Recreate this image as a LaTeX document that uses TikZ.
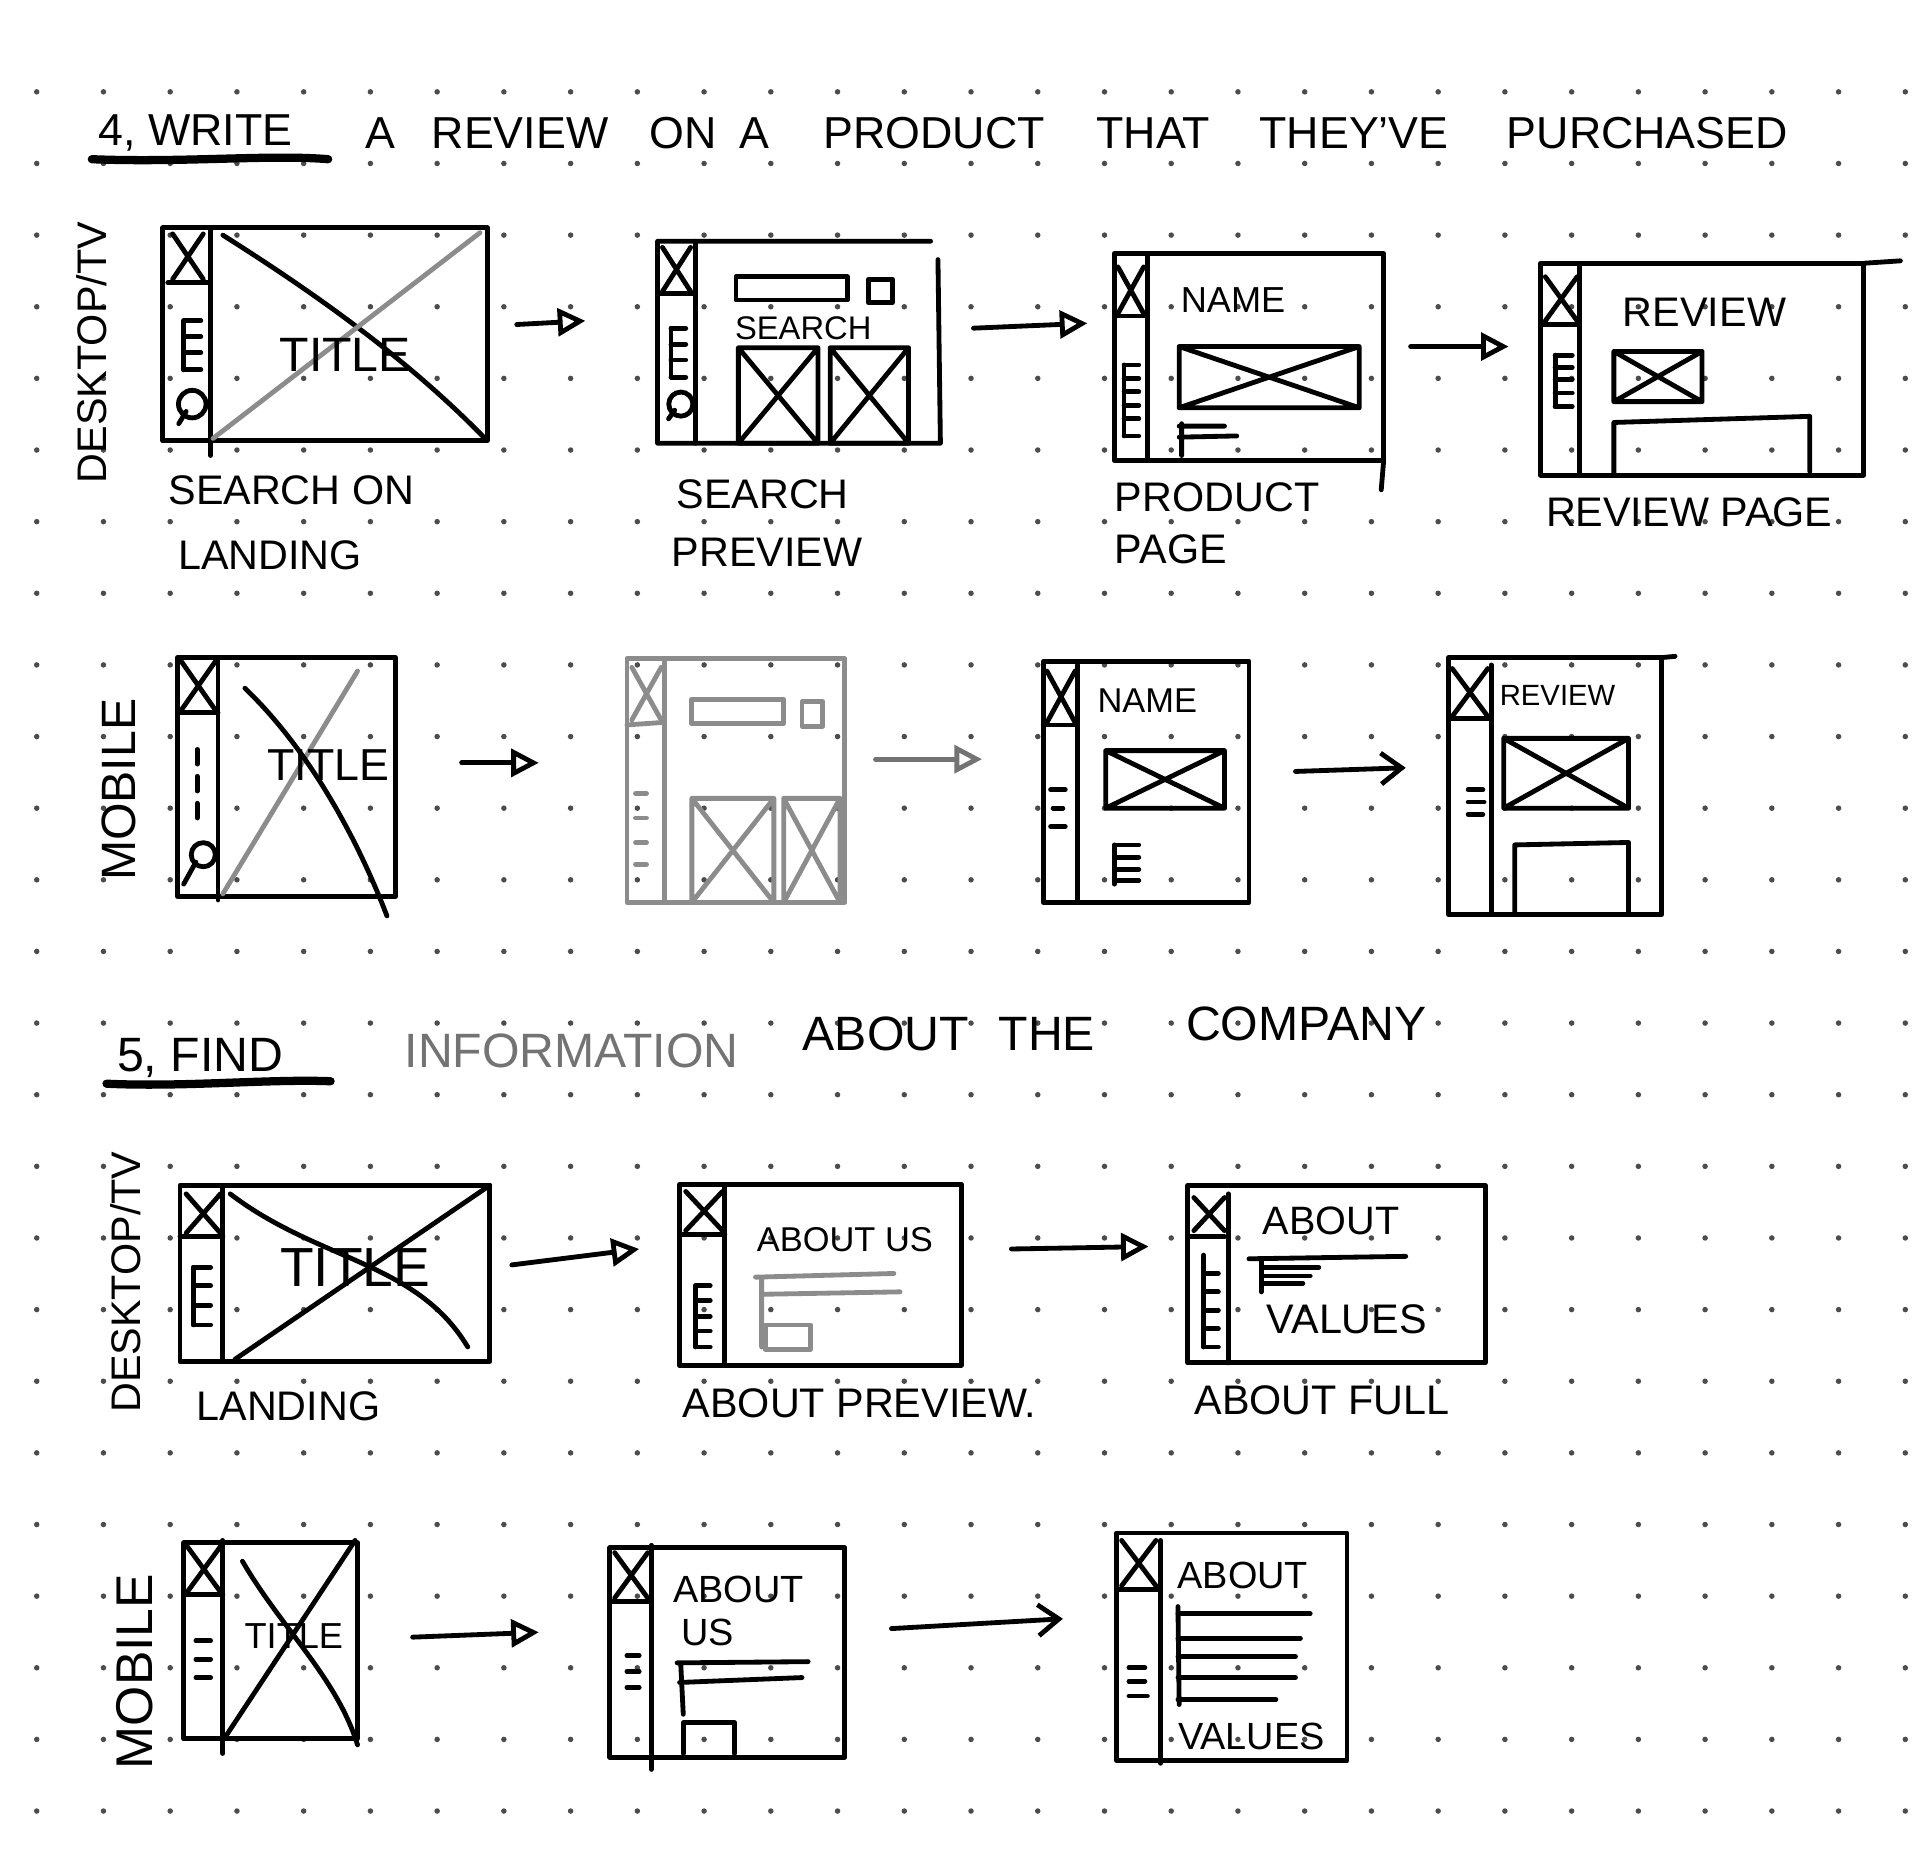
\documentclass[tikz,border=0pt]{standalone}
\usepackage{fontspec}
\setmainfont{Liberation Sans}
\usetikzlibrary{arrows.meta}

\tikzset{
  wire/.style={line width=1.4pt, line cap=round, line join=round},
  pencil/.style={wire, draw=black!45},
  flow/.style={wire, -{Triangle[open, length=8pt, width=8pt]}},
  barb/.style={wire, -{Straight Barb[length=6pt, width=9pt]}},
  heading/.style={font=\fontsize{13}{13}\selectfont, anchor=base west, inner sep=0pt},
  heading2/.style={font=\fontsize{14}{14}\selectfont, anchor=base west, inner sep=0pt},
  caption/.style={font=\fontsize{12}{12}\selectfont, anchor=base west, inner sep=0pt},
  screen/.style={font=\fontsize{#1}{#1}\selectfont, inner sep=0pt},
  screen/.default=10,
  side/.style={font=\fontsize{12}{12}\selectfont, rotate=90, inner sep=0pt},
}

% crossed image box and bare cross
\newcommand{\crossbox}[4]{\draw[wire] (#1,#2) rectangle (#3,#4) (#1,#2) -- (#3,#4) (#1,#4) -- (#3,#2);}
\newcommand{\cross}[4]{\draw[wire] (#1,#2) -- (#3,#4) (#1,#4) -- (#3,#2);}

\begin{document}
\begin{tikzpicture}[x=0.0125cm, y=-0.0125cm]
  \useasboundingbox (0,0) rectangle (1568,1516);
  \fill[white] (0,0) rectangle (1568,1516);

  % dotted paper
  \foreach \i in {0,...,28}
    \foreach \j in {0,...,24}
      \fill[black!70] (30+54.5*\i, 75+58.5*\j) circle[radius=0.8pt];

  % task 4
  \node[heading] (t1a) at (80,119) {4, WRITE};
  \draw[wire, line width=2.4pt] (75,130) .. controls (150,133) and (220,126) .. (268,130);
  \foreach \x/\w [count=\i] in {298/A, 352/REVIEW, 530/ON, 603/A, 672/PRODUCT, 895/THAT, 1028/THEY'VE, 1230/PURCHASED}
    \node[heading] (t1w\i) at (\x,121) {\w};

  \node[side] (rowA) at (75,288) {DESKTOP/TV};
  \node[side, font=\fontsize{14}{14}\selectfont] (rowB) at (97,645) {MOBILE};

  % search on landing
  \draw[wire] (133,186) rectangle (398,360);
  \draw[wire] (172,186) -- (172,372);
  \cross{141}{191}{166}{228}
  \draw[wire] (137,231) -- (170,231);
  \draw[wire] (150,262) -- (150,302);
  \foreach \y in {262,275,288,302} \draw[wire] (150,\y) -- (164,\y);
  \draw[wire] (157,330) circle[radius=4pt] (152,336) -- (146,346);
  \draw[wire] (182,192) .. controls (250,235) and (330,290) .. (396,358);
  \draw[pencil] (174,358) -- (392,190);
  \node[screen=14] (title1) at (282,290) {TITLE};
  \node[caption] (cap1a) at (137,412) {SEARCH ON};
  \node[caption] (cap1b) at (145,465) {LANDING};

  \coordinate (go1a) at (422,265);
  \coordinate (go1b) at (478,262);
  \draw[flow] (go1a) -- (go1b);

  % search preview
  \draw[wire] (537,197) -- (760,197) (766,212) -- (768,362) -- (537,362) -- (537,197);
  \draw[wire] (568,197) -- (568,362);
  \cross{541}{202}{564}{238}
  \draw[wire] (537,240) -- (568,240);
  \draw[wire] (548,268) -- (548,308);
  \foreach \y in {268,281,294,308} \draw[wire] (548,\y) -- (560,\y);
  \draw[wire] (556,330) circle[radius=3.5pt] (551,335) -- (546,342);
  \draw[wire] (601,226) rectangle (692,245);
  \draw[wire] (709,228) rectangle (729,247);
  \node[screen=9.5] (find2) at (656,268) {SEARCH};
  \crossbox{603}{284}{668}{362}
  \crossbox{678}{284}{742}{362}
  \node[caption] (cap2a) at (552,415) {SEARCH};
  \node[caption] (cap2b) at (548,463) {PREVIEW};

  \coordinate (go2a) at (795,268);
  \coordinate (go2b) at (888,264);
  \draw[flow] (go2a) -- (go2b);

  % product page
  \draw[wire] (910,207) rectangle (1130,376);
  \draw[wire] (1130,376) -- (1128,400);
  \draw[wire] (937,207) -- (937,376);
  \cross{913}{218}{934}{256}
  \draw[wire] (910,258) -- (937,258);
  \draw[wire] (918,298) -- (918,356);
  \foreach \y in {298,309,320,331,342,356} \draw[wire] (918,\y) -- (930,\y);
  \node[screen=10.5] (name3) at (1007,245) {NAME};
  \crossbox{963}{283}{1110}{333}
  \draw[wire] (963,348) -- (1000,348) (963,357) -- (1010,356) (965,346) -- (965,372);
  \node[caption] (cap3a) at (910,418) {PRODUCT};
  \node[caption] (cap3b) at (910,460) {PAGE};

  \coordinate (go3a) at (1152,283);
  \coordinate (go3b) at (1232,283);
  \draw[flow] (go3a) -- (go3b);

  % review page
  \draw[wire] (1258,215) rectangle (1522,388);
  \draw[wire] (1522,215) -- (1552,213);
  \draw[wire] (1290,218) -- (1290,388);
  \cross{1262}{226}{1288}{262}
  \draw[wire] (1258,265) -- (1290,265);
  \draw[wire] (1270,290) -- (1270,332);
  \foreach \y in {290,300,310,321,332} \draw[wire] (1270,\y) -- (1284,\y);
  \node[screen=12] (rev4) at (1392,255) {REVIEW};
  \crossbox{1318}{287}{1390}{328}
  \draw[wire] (1318,387) -- (1318,345) -- (1478,340) -- (1478,385);
  \node[caption] (cap4) at (1262,430) {REVIEW PAGE};

  % landing, mobile
  \draw[wire] (145,537) rectangle (323,732);
  \draw[wire] (178,537) -- (178,735);
  \cross{148}{540}{176}{580}
  \draw[wire] (145,582) -- (178,582);
  \foreach \y in {612,634,656} \draw[wire] (161,\y) -- (161,\y+12);
  \draw[wire] (166,698) circle[radius=3.5pt] (160,704) -- (150,722);
  \draw[pencil] (182,730) -- (292,548);
  \draw[wire] (200,562) .. controls (250,610) and (290,680) .. (316,748);
  \node[screen=13] (title5) at (268,625) {TITLE};

  \coordinate (go5a) at (377,623);
  \coordinate (go5b) at (440,623);
  \draw[flow] (go5a) -- (go5b);

  % search preview, mobile
  \draw[pencil] (512,538) rectangle (690,737);
  \draw[pencil] (543,538) -- (543,737);
  \draw[pencil] (516,545) -- (540,588) (540,545) -- (516,588);
  \draw[pencil] (512,592) -- (541,590);
  \foreach \y in {648,668,688,706} \draw[pencil] (519,\y) -- (528,\y);
  \draw[pencil] (565,571) rectangle (640,591);
  \draw[pencil] (655,573) rectangle (672,593);
  \draw[pencil] (565,652) rectangle (632,737) (565,652) -- (632,737) (565,737) -- (632,652);
  \draw[pencil] (640,652) rectangle (686,737) (640,652) -- (686,737) (640,737) -- (686,652);

  \coordinate (go6a) at (715,620);
  \coordinate (go6b) at (802,620);
  \draw[flow, draw=black!55] (go6a) -- (go6b);

  % product page, mobile
  \draw[wire] (852,540) rectangle (1020,737);
  \draw[wire] (880,543) -- (880,737);
  \cross{855}{548}{878}{590}
  \draw[wire] (852,592) -- (880,592);
  \draw[wire] (858,645) -- (870,645) (860,660) -- (868,660) (858,675) -- (870,675);
  \node[screen=10] (name7) at (937,572) {NAME};
  \crossbox{903}{613}{1000}{660}
  \draw[wire] (910,690) -- (910,722);
  \foreach \y in {690,700,710,719} \draw[wire] (912,\y) -- (930,\y);

  \coordinate (go7a) at (1058,630);
  \coordinate (go7b) at (1148,627);
  \draw[barb] (go7a) -- (go7b);

  % review page, mobile
  \draw[wire] (1183,537) rectangle (1357,747);
  \draw[wire] (1357,537) -- (1368,536);
  \draw[wire] (1218,543) -- (1218,745);
  \cross{1186}{546}{1215}{585}
  \draw[wire] (1183,587) -- (1218,587);
  \draw[wire] (1199,645) -- (1211,645) (1199,655) -- (1212,655) (1199,665) -- (1211,665);
  \node[screen=8.5] (rev8) at (1272,568) {REVIEW};
  \crossbox{1228}{603}{1330}{660}
  \draw[wire] (1237,745) -- (1237,690) -- (1330,688) -- (1330,745);

  % task 5
  \node[heading2] (t2a) at (95,875) {5, FIND};
  \draw[wire, line width=2.4pt] (87,885) .. controls (150,888) and (220,881) .. (270,883);
  \node[heading2, text=black!55] (t2w1) at (330,872) {INFORMATION};
  \node[heading2] (t2w2) at (655,858) {ABOUT};
  \node[heading2] (t2w3) at (815,858) {THE};
  \node[heading2] (t2w4) at (968,850) {COMPANY};

  \node[side] (rowC) at (103,1047) {DESKTOP/TV};
  \node[side, font=\fontsize{15}{15}\selectfont] (rowD) at (110,1365) {MOBILE};

  % landing
  \draw[wire] (147,968) rectangle (400,1112);
  \draw[wire] (182,970) -- (182,1112);
  \cross{152}{975}{180}{1007}
  \draw[wire] (147,1010) -- (182,1010);
  \draw[wire] (158,1035) -- (158,1082);
  \foreach \y in {1035,1050,1066,1082} \draw[wire] (158,\y) -- (172,\y);
  \draw[wire] (188,975) .. controls (260,1030) and (340,1030) .. (382,1100);
  \draw[wire] (192,1110) -- (400,968);
  \node[screen=16] (title9) at (290,1035) {TITLE};
  \node[caption] (cap9) at (160,1160) {LANDING};

  \coordinate (go9a) at (418,1033);
  \coordinate (go9b) at (522,1020);
  \draw[flow] (go9a) -- (go9b);

  % about preview
  \draw[wire] (555,967) rectangle (785,1115);
  \draw[wire] (592,968) -- (592,1115);
  \cross{560}{973}{590}{1005}
  \draw[wire] (555,1008) -- (592,1008);
  \draw[wire] (568,1050) -- (568,1100);
  \foreach \y in {1050,1062,1075,1087,1100} \draw[wire] (568,\y) -- (580,\y);
  \node[screen=10] (about10) at (690,1012) {ABOUT US};
  \draw[pencil] (617,1043) -- (730,1040) (622,1057) -- (735,1055) (622,1045) -- (622,1100);
  \draw[pencil] (625,1082) rectangle (662,1102);
  \node[caption] (cap10) at (557,1158) {ABOUT PREVIEW.};

  \coordinate (go10a) at (826,1020);
  \coordinate (go10b) at (938,1018);
  \draw[flow] (go10a) -- (go10b);

  % about full
  \draw[wire] (970,968) rectangle (1213,1113);
  \draw[wire] (1003,975) -- (1003,1113);
  \cross{975}{978}{1000}{1005}
  \draw[wire] (972,1010) -- (1000,1010);
  \draw[wire] (983,1025) -- (983,1100);
  \foreach \y in {1040,1055,1070,1085,1100} \draw[wire] (983,\y) -- (995,\y);
  \node[screen=11.5] (about11) at (1087,997) {ABOUT};
  \draw[wire] (1020,1028) -- (1148,1026);
  \draw[wire] (1030,1030) -- (1030,1055);
  \foreach \y/\l in {1035/45, 1042/38, 1048/32} \draw[wire] (1032,\y) -- ++(\l,0);
  \node[screen=12] (values11) at (1100,1077) {VALUES};
  \node[caption] (cap11) at (975,1155) {ABOUT FULL};

  % landing, mobile
  \draw[wire] (150,1260) rectangle (292,1420);
  \draw[wire] (182,1258) -- (182,1432);
  \cross{153}{1263}{180}{1300}
  \draw[wire] (150,1302) -- (182,1302);
  \foreach \y in {1340,1355,1370} \draw[wire] (160,\y) -- (172,\y);
  \draw[wire] (183,1420) -- (290,1258);
  \draw[wire] (198,1275) .. controls (230,1330) and (275,1370) .. (292,1425);
  \node[screen=10.5] (title12) at (240,1336) {TITLE};

  \coordinate (go12a) at (337,1337);
  \coordinate (go12b) at (440,1333);
  \draw[flow] (go12a) -- (go12b);

  % about preview, mobile
  \draw[wire] (498,1264) rectangle (690,1435);
  \draw[wire] (532,1262) -- (532,1445);
  \cross{502}{1268}{529}{1305}
  \draw[wire] (498,1308) -- (532,1308);
  \foreach \y in {1352,1365,1378} \draw[wire] (512,\y) -- (522,\y);
  \node[screen=11] (about13) at (603,1298) {ABOUT};
  \node[screen=11] (us13) at (578,1333) {US};
  \draw[wire] (553,1358) -- (660,1357) (555,1374) -- (655,1370) (556,1360) -- (558,1400);
  \draw[wire] (558,1432) -- (558,1407) -- (600,1407) -- (600,1432);

  \coordinate (go13a) at (728,1330);
  \coordinate (go13b) at (868,1322);
  \draw[barb] (go13a) -- (go13b);

  % about full, mobile
  \draw[wire] (912,1252) rectangle (1100,1438);
  \draw[wire] (948,1258) -- (948,1440);
  \cross{916}{1258}{944}{1295}
  \draw[wire] (912,1298) -- (946,1298);
  \foreach \y/\l in {1362/13, 1373/13, 1385/15} \draw[wire] (922,\y) -- ++(\l,0);
  \node[screen=11] (about14) at (1015,1287) {ABOUT};
  \draw[wire] (962,1312) -- (963,1392);
  \foreach \y/\l in {1318/108, 1338/100, 1353/96, 1370/96, 1388/80} \draw[wire] (962,\y) -- ++(\l,0);
  \node[screen=11] (values14) at (1022,1418) {VALUES};
\end{tikzpicture}
\end{document}
